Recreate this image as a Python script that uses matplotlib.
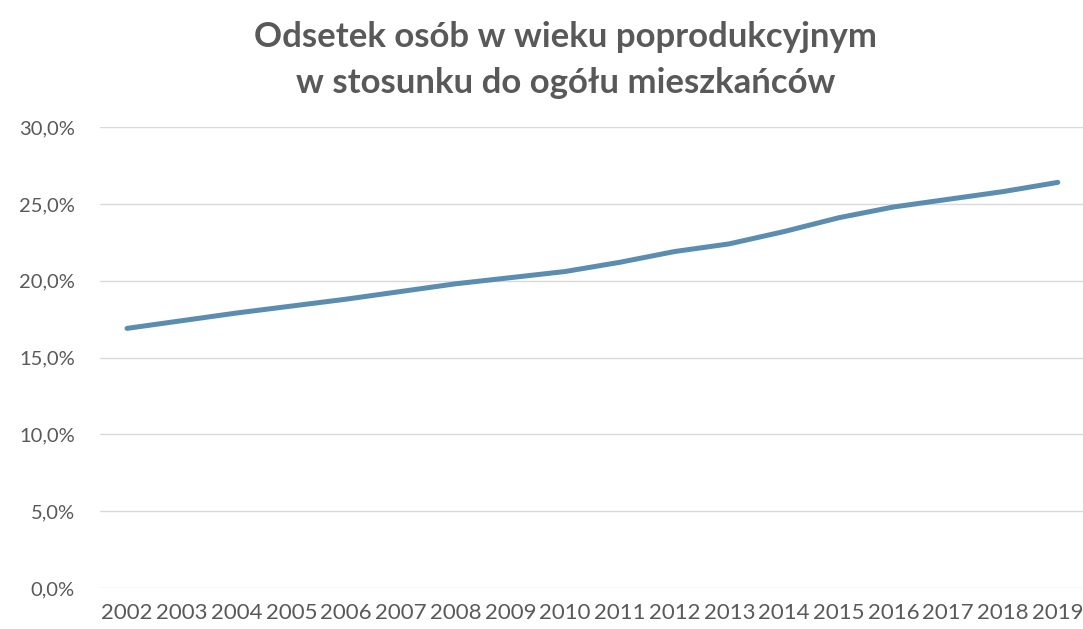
import matplotlib
matplotlib.use("Agg")
import matplotlib.pyplot as plt
from matplotlib.ticker import FuncFormatter

plt.rcParams['font.family'] = ['Lato', 'DejaVu Sans']

years = list(range(2002, 2020))
share = [16.9, 17.4, 17.9, 18.35, 18.8, 19.3, 19.8, 20.2, 20.6,
         21.2, 21.9, 22.4, 23.2, 24.1, 24.8, 25.3, 25.8, 26.4]
yticks = [0, 5, 10, 15, 20, 25, 30]

fig = plt.figure(figsize=(10.83, 6.29), dpi=100)
ax = fig.add_axes([0.092, 0.065, 0.91, 0.733])

x = list(range(len(years)))
ax.plot(x, share, color="#5b8db0", lw=3.6, solid_capstyle="round")

ax.set_xlim(-0.5, len(years) - 0.5)
ax.set_ylim(0, 30)
ax.set_yticks(yticks)
ax.yaxis.set_major_formatter(FuncFormatter(lambda v, p: f"{v:.1f}%".replace(".", ",")))
ax.set_xticks(x)
ax.set_xticklabels([str(y) for y in years])

ax.grid(axis="y", color="#d9d9d9", lw=1)
ax.set_axisbelow(True)
for s in ax.spines.values():
    s.set_visible(False)
ax.tick_params(length=0, colors="#595959")
ax.tick_params(axis="y", pad=18, labelsize=14.5)
ax.tick_params(axis="x", pad=11, labelsize=16)
for lbl in ax.get_yticklabels():
    lbl.set_horizontalalignment("right")

fig.text(0.522, 0.905, "Odsetek osób w wieku poprodukcyjnym\nw stosunku do ogółu mieszkańców",
         ha="center", va="center", fontsize=25, fontweight="bold", color="#595959",
         linespacing=1.55)

fig.savefig("out.png", dpi=100, facecolor="white")
